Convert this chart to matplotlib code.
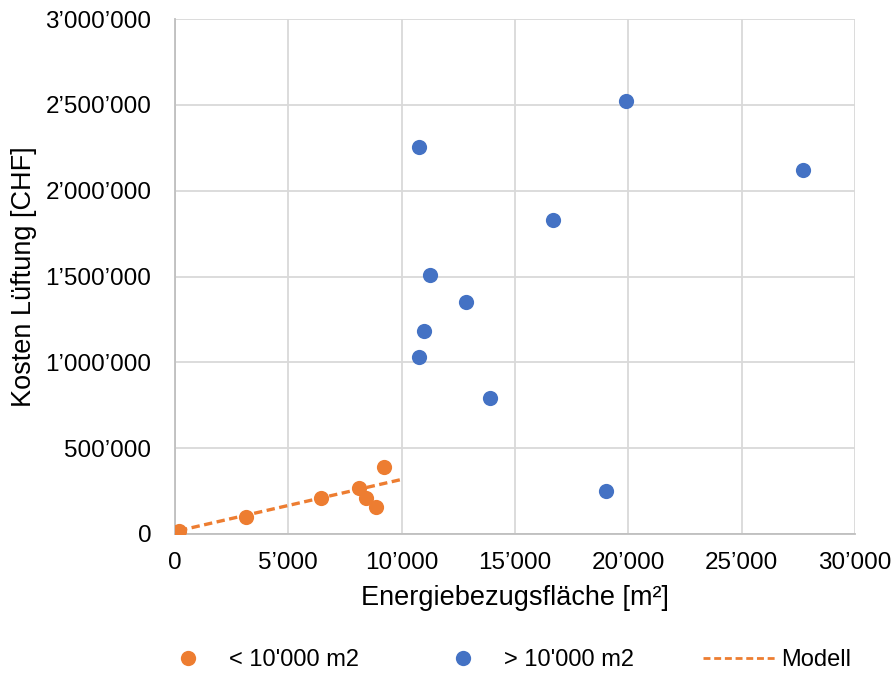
import matplotlib.pyplot as plt
from matplotlib.lines import Line2D
from matplotlib.ticker import FuncFormatter

plt.rcParams['font.family'] = ['Liberation Sans', 'DejaVu Sans']

# Gebaeude unter 10'000 m2
small_ebf = [176, 3119, 6454, 8104, 8426, 8868, 9207]
small_cost = [17500, 97000, 211000, 270000, 208000, 156000, 392000]

# Gebaeude ueber 10'000 m2
large_ebf = [19897, 10778, 16676, 11250, 12838, 10985, 10751, 13897, 27706, 19015]
large_cost = [2524000, 2256000, 1829000, 1509000, 1353000, 1181000, 1033000, 790000, 2120000, 250000]

# lineares Modell
model_ebf = [180, 10000]
model_cost = [20000, 318000]

x_ticks = [0, 5000, 10000, 15000, 20000, 25000, 30000]
y_ticks = [0, 500000, 1000000, 1500000, 2000000, 2500000, 3000000]

orange = '#ED7D31'
blue = '#4472C4'
dash = (0, (2.5, 1.35))


def swiss(v, pos=None):
    return f"{int(v):,}".replace(",", "\u2019")


fig = plt.figure(figsize=(8.96, 6.74), dpi=100)
ax = fig.add_axes([175 / 896, 140 / 674, 680 / 896, 515 / 674])

ax.scatter(small_ebf, small_cost, s=120, color=orange, zorder=3, linewidths=0)
ax.scatter(large_ebf, large_cost, s=120, color=blue, zorder=3, linewidths=0)
ax.plot(model_ebf, model_cost, color=orange, lw=2.4, ls=dash, zorder=2)

ax.set_xlim(0, 30000)
ax.set_ylim(0, 3000000)
ax.set_xticks(x_ticks)
ax.set_yticks(y_ticks)
ax.xaxis.set_major_formatter(FuncFormatter(swiss))
ax.yaxis.set_major_formatter(FuncFormatter(swiss))
ax.tick_params(length=0, labelsize=17.5, colors='#000000')
ax.tick_params(axis='x', pad=13)
ax.tick_params(axis='y', pad=17)
ax.grid(True, color='#d9d9d9', lw=1.3)
ax.set_axisbelow(True)
for side in ['top', 'right']:
    ax.spines[side].set_visible(False)
for side in ['left', 'bottom']:
    ax.spines[side].set_color('#bfbfbf')
    ax.spines[side].set_linewidth(1.3)

ax.set_xlabel("Energiebezugsfläche [m²]", fontsize=19.5, labelpad=8)
ax.set_ylabel("Kosten Lüftung [CHF]", fontsize=19.5, labelpad=6)

# Legende unten, Eintraege einzeln platziert
entries = [
    (Line2D([], [], marker='o', ls='none', color=orange, markersize=11, markeredgewidth=0),
     "< 10'000 m2", 171.5, 1.4, 1.05),
    (Line2D([], [], marker='o', ls='none', color=blue, markersize=11, markeredgewidth=0),
     "> 10'000 m2", 446.5, 1.4, 1.05),
    (Line2D([], [], color=orange, lw=2, ls=dash), "Modell", 703, 3.05, 0.25),
]
for handle, label, left_px, hl, pad in entries:
    fig.legend([handle], [label], loc='center left', bbox_to_anchor=(left_px / 896, 14 / 674),
               frameon=False, fontsize=17, handlelength=hl, handletextpad=pad,
               borderpad=0, borderaxespad=0)

fig.savefig("out.png", dpi=100)
